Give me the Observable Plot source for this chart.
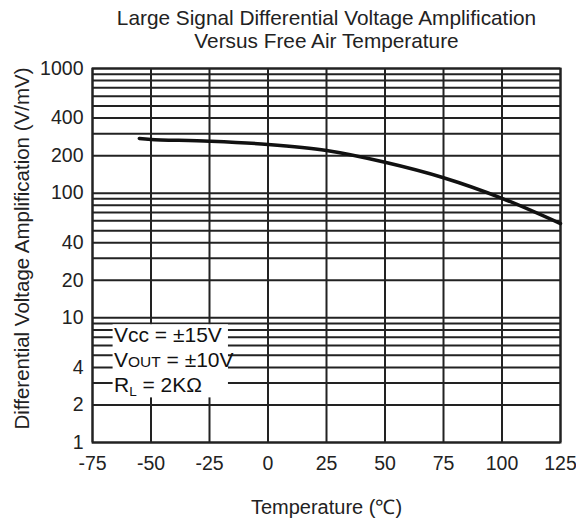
<!DOCTYPE html>
<html>
<head>
<meta charset="utf-8">
<script src="https://cdn.jsdelivr.net/npm/d3@7"></script>
<script src="https://cdn.jsdelivr.net/npm/@observablehq/plot@0.6"></script>
<style>
  html, body { margin: 0; padding: 0; background: #fff; }
  #chart { width: 576px; height: 525px; }
</style>
</head>
<body>
<div id="chart"></div>
<script>
// ---- data ----
const titleLines = ["Large Signal Differential Voltage Amplification", "Versus Free Air Temperature"];
const xLabel = "Temperature (\u2103)";
const yLabel = "Differential Voltage Amplification (V/mV)";

const xTicks = [-75, -50, -25, 0, 25, 50, 75, 100, 125];
const yTicks = [1, 2, 4, 10, 20, 40, 100, 200, 400, 1000];
const yGrid = [1, 2, 3, 4, 5, 6, 7, 8, 9,
               10, 20, 30, 40, 50, 60, 70, 80, 90,
               100, 200, 300, 400, 500, 600, 700, 800, 900, 1000];

const temps = [-55, -50, -25, 0, 25, 50, 75, 100, 125];
const gains = [275, 270, 261, 246, 220, 177, 133, 91, 57];

const conditions = [
  [{t: "Vcc = \u00b115V"}],
  [{t: "V"}, {t: "OUT", small: true}, {t: " = \u00b110V"}],
  [{t: "R"}, {t: "L", sub: true}, {t: " = 2K\u03a9"}]
];
// anchor of the conditions note (data units) and its white box
const noteAt = {t: -65.6, v: [6.3, 4.0, 2.52]};
const noteBox = {t0: -66.2, t1: -16.9, v0: 2.28, v1: 8.8};

const curve = temps.map((t, i) => ({t, g: gains[i]}));

const FONT = "'Liberation Sans', Arial, Helvetica, sans-serif";
const INK = "#222";

const plot = Plot.plot({
  width: 576,
  height: 525,
  marginLeft: 92,
  marginRight: 16,
  marginTop: 68,
  marginBottom: 83,
  style: {fontFamily: FONT, fontSize: "19px", color: INK, background: "#fff", overflow: "visible"},
  x: {domain: [-75, 125], axis: null},
  y: {type: "log", domain: [1, 1000], axis: null},
  marks: [
    Plot.ruleY(yGrid, {stroke: INK, strokeWidth: 2}),
    Plot.ruleX(xTicks, {stroke: INK, strokeWidth: 2}),
    Plot.rect([noteBox], {x1: d => d.t0, x2: d => d.t1, y1: d => d.v0, y2: d => d.v1, fill: "#fff"}),
    Plot.frame({stroke: INK, strokeWidth: 2}),
    Plot.line(curve, {x: "t", y: "g", curve: "catmull-rom", stroke: "#111", strokeWidth: 3.5, strokeLinecap: "round"}),
    // tick labels
    Plot.text(xTicks, {x: d => d, frameAnchor: "bottom", dy: 27, text: d => String(d), fontSize: 19.5, fill: INK}),
    Plot.text(yTicks, {y: d => d, frameAnchor: "left", dx: -9, textAnchor: "end", text: d => String(d), fontSize: 19.5, fill: INK}),
    // axis titles
    Plot.text([yLabel], {frameAnchor: "left", textAnchor: "middle", rotate: -90, dx: -70, dy: -7, fontSize: 20.5, fill: INK}),
    Plot.text([xLabel], {frameAnchor: "bottom", dy: 71, fontSize: 20, fill: INK}),
    Plot.text([titleLines.join("\n")], {frameAnchor: "top", lineAnchor: "top", dx: 0, dy: -60, lineHeight: 1.1, fontSize: 20.8, fill: INK})
  ]
});

// conditions note with sub/small-caps tspans
const sx = plot.scale("x"), sy = plot.scale("y");
const svg = d3.select(plot.tagName.toLowerCase() === "svg" ? plot : plot.querySelector("svg"));
const g = svg.append("g").attr("font-family", FONT).attr("font-size", 21)
  .attr("fill", "#111").attr("text-anchor", "start");
conditions.forEach((parts, i) => {
  const txt = g.append("text").attr("x", sx.apply(noteAt.t)).attr("y", sy.apply(noteAt.v[i]));
  const hasSub = parts.some(q => q.sub);
  parts.forEach((p, j) => {
    const ts = txt.append("tspan").text(p.t);
    if (p.small) ts.attr("font-size", 15.5);
    if (p.sub) ts.attr("font-size", 13.5).attr("dy", 4);
    else if (hasSub && j > 0) ts.attr("dy", -4);
  });
});

document.getElementById("chart").appendChild(plot);
</script>
</body>
</html>
